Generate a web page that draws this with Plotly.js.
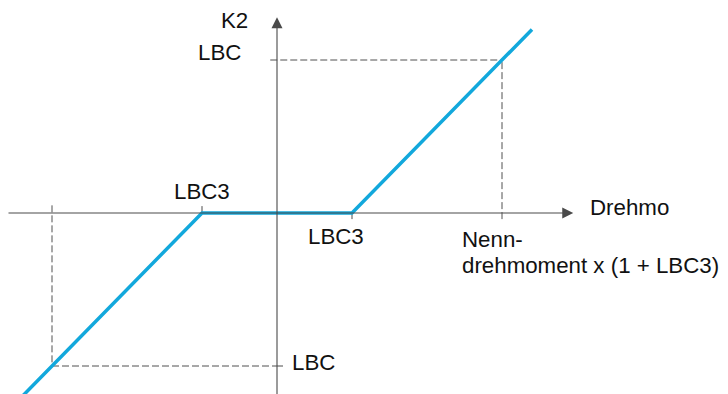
<!DOCTYPE html>
<html>
<head>
<meta charset="utf-8">
<script src="https://cdn.plot.ly/plotly-3.0.1.min.js"></script>
<style>
  html, body { margin: 0; padding: 0; background: #fff; }
  #chart { width: 728px; height: 394px; }
</style>
</head>
<body>
<div id="chart"></div>
<script>
'use strict';

// characteristic: flat band of +/- LBC3 around zero torque, then rising
const lineX = [-3.4, -1, 1, 3.4];
const lineY = [-2.4, 0, 0, 2.4];

// reference points (torque in units of LBC3, K2 in units of the LBC level)
const lbc3 = 1;
const nennX = 3;
const lbcY = 2;

const axisX = [-3.6, 3.95];
const axisY = [-2.5, 2.56];

const FONT = 'Arial, "Liberation Sans", sans-serif';
const TEXT_COLOR = '#111';
const AXIS_COLOR = '#4a4a4a';
const DASH_COLOR = '#505050';

function line(x0, y0, x1, y1, dash) {
  return {
    type: 'line', xref: 'x', yref: 'y', x0, y0, x1, y1,
    line: {color: dash ? DASH_COLOR : AXIS_COLOR, width: 1, dash: dash ? '7px,3px' : 'solid'},
    layer: 'below',
  };
}

function label(text, x, y, xanchor) {
  return {
    text, x, y, xref: 'x', yref: 'y', xanchor, yanchor: 'middle',
    showarrow: false, font: {family: FONT, size: 22.3, color: TEXT_COLOR},
  };
}

function arrow(x, y, ax, ay) {
  return {
    text: '', x, y, ax, ay, xref: 'x', yref: 'y', axref: 'x', ayref: 'y',
    showarrow: true, arrowhead: 2, arrowsize: 2, arrowwidth: 1.1,
    arrowcolor: AXIS_COLOR, standoff: 0, startstandoff: 0,
  };
}

const shapes = [
  // upper dashed guide to (Nenn, LBC)
  line(nennX, -0.08, nennX, lbcY, true),
  line(-0.09, lbcY, nennX, lbcY, true),
  // lower dashed guide to (-Nenn, -LBC)
  line(-nennX, 0.1, -nennX, -lbcY, true),
  line(-nennX, -lbcY, 0, -lbcY, true),
  line(0, -lbcY, 0.08, -lbcY, false),
  // ticks at +/- LBC3
  line(-lbc3, 0, -lbc3, 0.09, false),
  line(lbc3, 0, lbc3, -0.08, false),
];

const annotations = [
  arrow(axisX[1], 0, axisX[0], 0),
  arrow(0, axisY[1], 0, axisY[0]),
  label('K2', -0.36, 2.52, 'right'),
  label('LBC', -0.46, 2.1, 'right'),
  label('LBC3', -lbc3, 0.28, 'center'),
  label('LBC3', 0.38, -0.31, 'left'),
  label('Drehmo', 4.15, 0.07, 'left'),
  label('Nenn-', 2.44, -0.35, 'left'),
  label('drehmoment x (1 + LBC3)', 2.44, -0.68, 'left'),
  label('LBC', 0.17, -1.96, 'left'),
];

const trace = {
  x: lineX,
  y: lineY,
  type: 'scatter',
  mode: 'lines',
  line: {color: '#12a8dc', width: 3.5},
  hoverinfo: 'skip',
};

const layout = {
  width: 728,
  height: 394,
  margin: {l: 0, r: 0, t: 0, b: 0},
  paper_bgcolor: '#fff',
  plot_bgcolor: '#fff',
  showlegend: false,
  xaxis: {visible: false, range: [-277 / 75, 451 / 75], fixedrange: true},
  yaxis: {visible: false, range: [-181 / 76.5, 213 / 76.5], fixedrange: true},
  shapes,
  annotations,
};

Plotly.newPlot('chart', [trace], layout, {staticPlot: true});
</script>
</body>
</html>
